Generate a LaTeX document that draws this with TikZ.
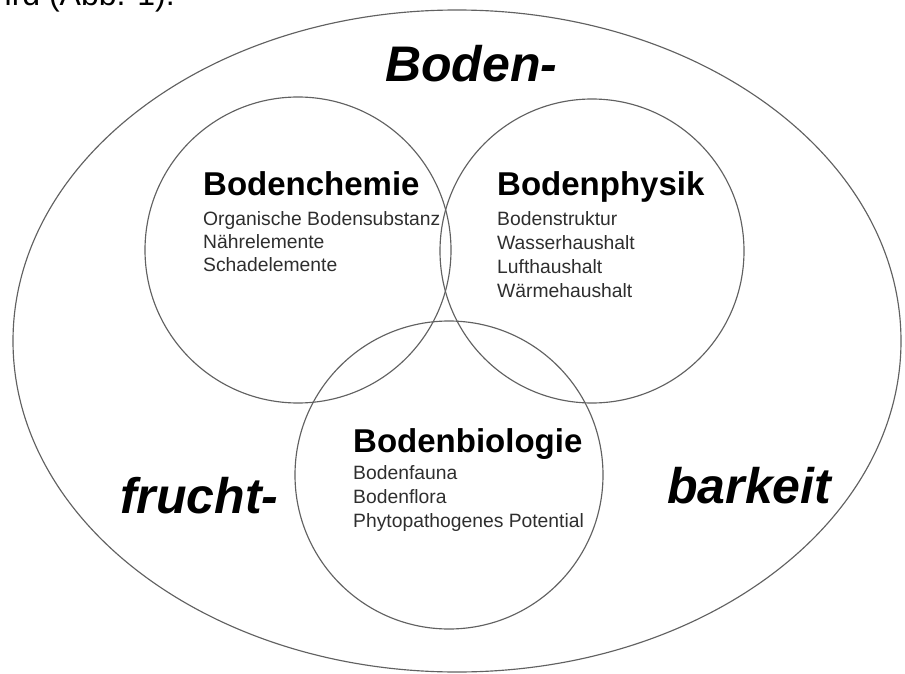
\documentclass[tikz,border=0pt]{standalone}
\usepackage{fontspec}
\setmainfont{Liberation Sans}
\begin{document}
\begin{tikzpicture}[x=1pt,y=-1pt,
  ring/.style={draw=black!62,line width=1.15pt},
  title/.style={anchor=base west,inner sep=0pt,font=\fontsize{33}{38}\selectfont\bfseries},
  item/.style={anchor=base west,inner sep=0pt,text=black!82,font=\fontsize{19.3}{22}\selectfont},
  big/.style={anchor=base west,inner sep=0pt,font=\fontsize{50}{56}\selectfont\bfseries\itshape}]
\useasboundingbox (0,0) rectangle (905,674);
\begin{scope}
\clip (0,0) rectangle (905,674);
\node[anchor=base east,inner sep=0pt,font=\fontsize{32}{36}\selectfont] (intro) at (175,6) {ird (Abb. 1).};
\draw[ring] (457,341) ellipse [x radius=444, y radius=331];
\end{scope}
\draw[ring] (298,250) circle [radius=153];
\draw[ring] (592,251) circle [radius=152];
\draw[ring] (449,475) circle [radius=154];
\node[big] (t1) at (385,82) {Boden-};
\node[big] (t2) at (120,513) {frucht-};
\node[big] (t3) at (667,503) {barkeit};
% Bodenchemie
\node[title] (chem) at (203,195) {Bodenchemie};
\node[item] (c1) at (203,225) {Organische Bodensubstanz};
\node[item] (c2) at (203,248) {Nährelemente};
\node[item] (c3) at (203,271) {Schadelemente};
% Bodenphysik
\node[title] (phys) at (497,195) {Bodenphysik};
\node[item] (p1) at (497,225) {Bodenstruktur};
\node[item] (p2) at (497,249) {Wasserhaushalt};
\node[item] (p3) at (497,273) {Lufthaushalt};
\node[item] (p4) at (497,297) {Wärmehaushalt};
% Bodenbiologie
\node[title] (bio) at (353,452) {Bodenbiologie};
\node[item] (b1) at (353,479) {Bodenfauna};
\node[item] (b2) at (353,503) {Bodenflora};
\node[item] (b3) at (353,527) {Phytopathogenes Potential};
\end{tikzpicture}
\end{document}
